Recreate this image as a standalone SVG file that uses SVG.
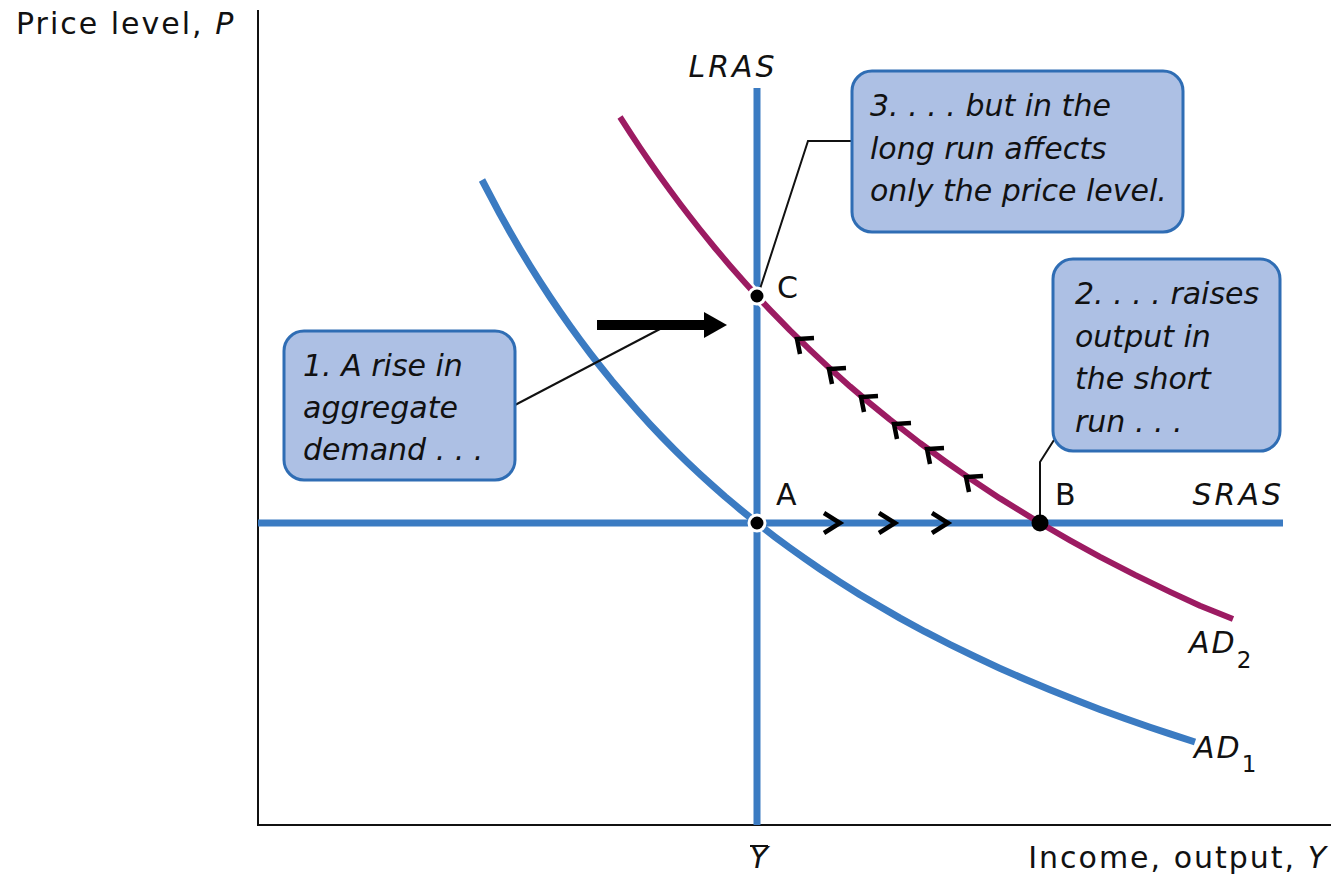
<svg xmlns="http://www.w3.org/2000/svg" width="1333" height="881" viewBox="0 0 1333 881">
<style>
text{font-family:"DejaVu Sans","Open Sans",sans-serif;fill:#111}
.it{font-style:italic}
.ax{font-size:30px;letter-spacing:2px}
.lbl{font-size:30px}
.call{font-size:30px;font-style:italic}
.box{fill:#adc0e4;stroke:#2f6db4;stroke-width:3}
.blue{fill:none;stroke:#3b7bc2;stroke-width:7;stroke-linejoin:round}
.ad2{fill:none;stroke:#9c1b62;stroke-width:6;stroke-linejoin:round}
.lead{fill:none;stroke:#111;stroke-width:2}
.chev{fill:none;stroke:#000;stroke-width:4.5;stroke-linecap:butt;stroke-linejoin:miter}
</style>
<rect width="1333" height="881" fill="#fff"/>
<g id="axes">
<line x1="258" y1="10" x2="258" y2="826" stroke="#111" stroke-width="2"/>
<line x1="257" y1="825" x2="1331" y2="825" stroke="#111" stroke-width="2"/>
<text x="16" y="34" class="ax">Price level, <tspan class="it">P</tspan></text>
<text x="1328" y="868" class="ax" text-anchor="end">Income, output, <tspan class="it">Y</tspan></text>
<text x="759" y="868" font-size="30" class="it" text-anchor="middle">Y</text>
<line x1="750" y1="846" x2="768" y2="846" stroke="#111" stroke-width="2"/>
</g>
<g id="curves">
<line id="SRAS" class="blue" x1="258" y1="523" x2="1283" y2="523"/>
<line id="LRAS" class="blue" x1="757" y1="88" x2="757" y2="825"/>
<polyline id="AD1" class="blue" points="482,180 500,214.1 510,232 520,249.2 530,265.7 540,281.7 550,297 560,311.8 570,326.1 580,339.8 590,353.1 600,366 612,380.9 625,396.3 637,410 650,424.3 662,437 675,450.2 687,461.9 700,474.2 712,485.1 725,496.6 740,509.2 757,523 775,536.9 790,548 805,558.7 820,569 840,582.1 860,594.7 880,606.6 900,618.1 925,631.7 950,644.5 975,656.7 1000,668.3 1025,679.3 1050,689.8 1075,699.8 1100,709.4 1125,718.5 1150,727.2 1170,733.9 1195,742"/>
<polyline id="AD2halo" fill="none" stroke="#fff" stroke-width="11" stroke-linejoin="round" points="730,265.7 745,282.8 757,296 770,309.9 790,330.4"/>
<polyline id="AD2" class="ad2" points="620,117 630,132.5 640,147.6 650,162.2 660,176.4 670,190.3 680,203.7 690,216.8 700,229.5 715,248 730,265.7 745,282.8 757,296 770,309.9 790,330.4 810,349.9 830,368.6 850,386.4 870,403.4 890,419.7 920,443 945,461.2 970,478.6 1000,498.4 1040,523 1070,540.3 1100,556.8 1135,574.9 1170,591.9 1200,605.8 1233,619"/>
</g>
<g id="connectors">
<polyline class="lead" points="852,141 808,141 759,292"/>
<polyline class="lead" points="515,405 660,329"/>
<polyline class="lead" points="1054,440 1040,462 1040,523"/>
<line x1="597" y1="325" x2="708" y2="325" stroke="#000" stroke-width="10"/>
<polygon points="727,325 704,312 704,338" fill="#000"/>
<g class="chev">
<path d="M824,513 L840,523 L824,533"/>
<path d="M879,513 L895,523 L879,533"/>
<path d="M932,513 L948,523 L932,533"/>
<path d="M814,338 L797,339 L800,354"/>
<path d="M846,368 L829,369 L832,384"/>
<path d="M878,396 L861,397 L864,412"/>
<path d="M911,423 L894,424 L897,439"/>
<path d="M944,448 L927,449 L930,464"/>
<path d="M983,476 L966,477 L969,492"/>
</g>
</g>
<g id="pointA">
<circle cx="757" cy="523" r="8" fill="#000" stroke="#fff" stroke-width="3"/>
<text x="776" y="505" class="lbl">A</text>
</g>
<g id="pointC">
<circle cx="757" cy="296" r="8" fill="#000" stroke="#fff" stroke-width="3"/>
<text x="777" y="298" class="lbl">C</text>
</g>
<g id="pointB">
<circle cx="1040" cy="523" r="8.5" fill="#000"/>
<text x="1055" y="505" class="lbl">B</text>
</g>
<g id="labels">
<text x="733" y="77" class="lbl it" letter-spacing="3" text-anchor="middle">LRAS</text>
<text x="1284" y="505" class="lbl it" letter-spacing="3" text-anchor="end">SRAS</text>
<text x="1189" y="653" class="lbl it" letter-spacing="2">AD<tspan dy="15" font-size="23" font-style="normal">2</tspan></text>
<text x="1194" y="758" class="lbl it" letter-spacing="2">AD<tspan dy="14" font-size="23" font-style="normal">1</tspan></text>
</g>
<g id="callout1">
<rect class="box" x="284" y="331" width="231" height="149" rx="20"/>
<text class="call" x="303" y="376">1. A rise in</text>
<text class="call" x="303" y="418">aggregate</text>
<text class="call" x="303" y="460">demand . . .</text>
</g>
<g id="callout2">
<rect class="box" x="1053" y="259" width="227" height="192" rx="20"/>
<text class="call" x="1075" y="304">2. . . . raises</text>
<text class="call" x="1075" y="347">output in</text>
<text class="call" x="1075" y="389">the short</text>
<text class="call" x="1075" y="432">run . . .</text>
</g>
<g id="callout3">
<rect class="box" x="852" y="71" width="331" height="161" rx="20"/>
<text class="call" x="870" y="116">3. . . . but in the</text>
<text class="call" x="870" y="159">long run affects</text>
<text class="call" x="870" y="201">only the price level.</text>
</g>
</svg>
